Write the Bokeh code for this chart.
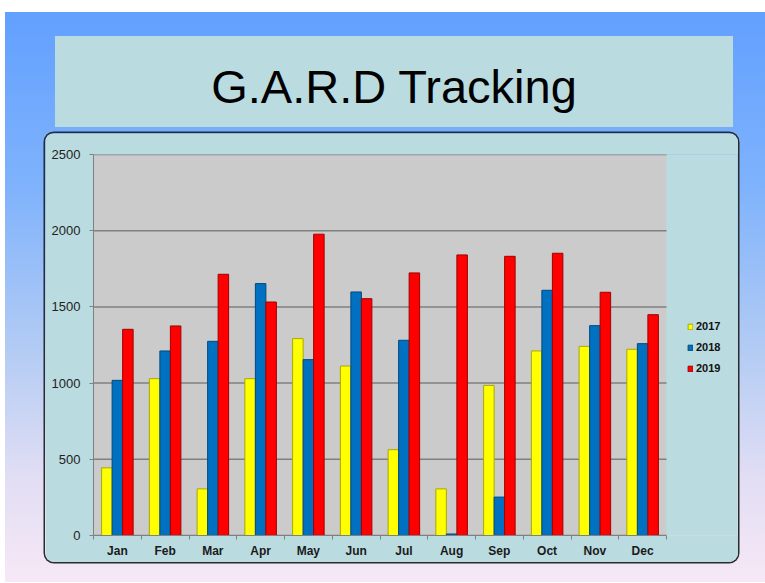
from bokeh.plotting import figure
from bokeh.models import (ColumnDataSource, Range1d, FixedTicker, Legend, LegendItem, Div,
                          BoxAnnotation)
from bokeh.layouts import column
from bokeh.transform import dodge
from bokeh.embed import file_html
from bokeh.resources import INLINE

title_text = "G.A.R.D Tracking"
months = ["Jan", "Feb", "Mar", "Apr", "May", "Jun", "Jul", "Aug", "Sep", "Oct", "Nov", "Dec"]
years = ["2017", "2018", "2019"]
y2017 = [444, 1029, 306, 1029, 1292, 1112, 563, 306, 985, 1211, 1241, 1222]
y2018 = [1018, 1211, 1274, 1653, 1154, 1598, 1281, 10, 252, 1609, 1377, 1259]
y2019 = [1353, 1375, 1714, 1532, 1977, 1554, 1723, 1841, 1832, 1852, 1596, 1449]
y_ticks = [0, 500, 1000, 1500, 2000, 2500]

PANEL = "#BADCE0"
PLOTBG = "#CBCBCB"
GRID = "#808080"
FONT = "Liberation Sans"

# --- title box ---
t = Div(text=title_text, width=678, height=91, margin=(24, 32, 0, 50),
        styles={"background-color": PANEL, "font-family": FONT, "font-size": "47px",
                "text-align": "center", "line-height": "101px", "color": "#000000",
                "overflow": "hidden"})

# --- chart panel ---
n = len(months)
ymax = y_ticks[-1]
xc = [i + 0.5 for i in range(n)]
src = ColumnDataSource(dict(x=xc, y2017=y2017, y2018=y2018, y2019=y2019))

# frame also holds the legend area to the right of the month columns
x_end = n * 644 / 573
p = figure(frame_width=644, frame_height=381, x_range=Range1d(0, x_end), y_range=Range1d(0, ymax),
           toolbar_location=None, output_backend="svg",
           min_border_left=48, min_border_right=1, min_border_top=21, min_border_bottom=27,
           border_fill_color=PANEL, background_fill_color=PANEL, outline_line_color=None,
           margin=(6, 27, 20, 40),
           styles={"border-radius": "9px", "overflow": "hidden",
                   "box-shadow": "0 0 0 1.5px #2b2b2b"})

# grey plot area and gridlines limited to the month columns
p.add_layout(BoxAnnotation(left=0, right=n, bottom=0, top=ymax, fill_color=PLOTBG,
                           fill_alpha=1, line_color=None, level="underlay"))
p.segment(x0=[0] * len(y_ticks), x1=[n] * len(y_ticks), y0=y_ticks, y1=y_ticks,
          line_color=GRID, line_width=1.5)

fills = ["#FFFF00", "#0070C0", "#FF0000"]
edges = ["#A8A800", "#004A80", "#A00000"]
fields = ["y2017", "y2018", "y2019"]
bw = 0.22
renderers = []
for i, (f, fc, ec) in enumerate(zip(fields, fills, edges)):
    r = p.vbar(x=dodge("x", (i - 1) * bw), top=f, width=bw, source=src,
               fill_color=fc, line_color=ec, line_width=1)
    renderers.append(r)

p.xgrid.visible = False
p.ygrid.visible = False

p.yaxis.ticker = FixedTicker(ticks=y_ticks)
p.yaxis.axis_line_color = GRID
p.yaxis.major_tick_line_color = GRID
p.yaxis.major_tick_out = 4
p.yaxis.major_tick_in = 0
p.yaxis.minor_tick_line_color = None
p.yaxis.major_label_standoff = 9
p.yaxis.major_label_text_font = FONT
p.yaxis.major_label_text_font_size = "13px"
p.yaxis.major_label_text_color = "#222222"

p.xaxis.ticker = FixedTicker(ticks=xc, minor_ticks=list(range(n + 1)))
p.xaxis.bounds = (0, n)
p.xaxis.major_label_overrides = {x: m for x, m in zip(xc, months)}
p.xaxis.axis_line_color = GRID
p.xaxis.major_tick_line_color = None
p.xaxis.major_tick_out = 0
p.xaxis.major_tick_in = 0
p.xaxis.minor_tick_line_color = GRID
p.xaxis.minor_tick_out = 4
p.xaxis.minor_tick_in = 0
p.xaxis.major_label_standoff = 4
p.xaxis.major_label_text_font = FONT
p.xaxis.major_label_text_font_style = "bold"
p.xaxis.major_label_text_font_size = "12px"
p.xaxis.major_label_text_color = "#1a1a1a"

legend = Legend(items=[LegendItem(label=y, renderers=[r]) for y, r in zip(years, renderers)],
                location=(594, 160), orientation="vertical",
                glyph_width=6, glyph_height=7, label_height=14, spacing=7,
                label_standoff=3, padding=0, margin=0,
                label_text_font=FONT, label_text_font_style="bold",
                label_text_font_size="11px", label_text_color="#111111",
                border_line_color=None, background_fill_alpha=0)
p.add_layout(legend)

page = column(t, p, margin=(12, 0, 0, 5),
              styles={"background": "linear-gradient(180deg, #62A0FF 0%, #7EB2FC 30%, #B4CCF4 60%, #E2DEF4 82%, #F6E8F6 100%)"})

open("out.html", "w").write(file_html(page, INLINE))
